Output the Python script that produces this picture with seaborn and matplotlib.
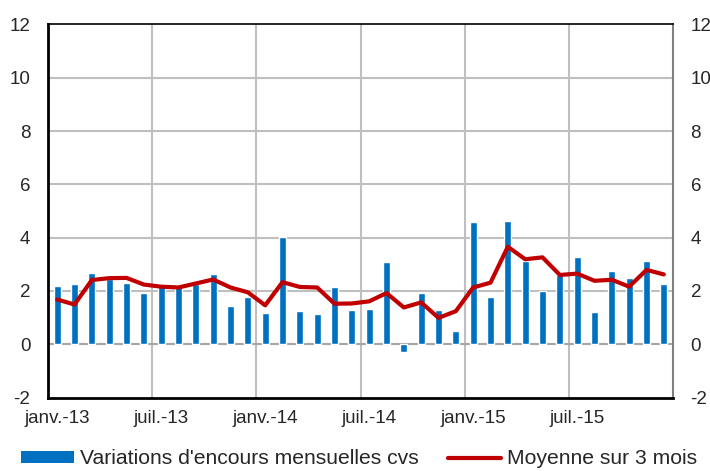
import numpy as np
import pandas as pd
import matplotlib
matplotlib.use('Agg')
import matplotlib.pyplot as plt
import seaborn as sns
from matplotlib.patches import Patch
from matplotlib.lines import Line2D

# mois de janv.-13 à déc.-15
mois_noms = ['janv.', 'févr.', 'mars', 'avr.', 'mai', 'juin',
             'juil.', 'août', 'sept.', 'oct.', 'nov.', 'déc.']
annees = ['13', '14', '15']
mois = [f'{m}-{a}' for a in annees for m in mois_noms]

# variations d'encours mensuelles cvs
variations = [2.18, 2.26, 2.68, 2.45, 2.31, 1.91, 2.20, 2.24, 2.27, 2.63, 1.43, 1.76,
              1.19, 4.01, 1.23, 1.14, 2.16, 1.30, 1.33, 3.10, -0.31, 1.91, 1.28, 0.50,
              4.57, 1.79, 4.62, 3.14, 2.01, 2.60, 3.26, 1.20, 2.75, 2.47, 3.11, 2.26]

# moyenne sur 3 mois
moyenne_3m = [1.68, 1.49, 2.41, 2.48, 2.49, 2.24, 2.16, 2.13, 2.28, 2.43, 2.13, 1.95,
              1.46, 2.33, 2.15, 2.13, 1.52, 1.53, 1.61, 1.92, 1.38, 1.57, 0.99, 1.24,
              2.13, 2.31, 3.66, 3.19, 3.26, 2.60, 2.65, 2.38, 2.42, 2.16, 2.79, 2.62]

yticks = [-2, 0, 2, 4, 6, 8, 10, 12]

df = pd.DataFrame({'mois': mois, 'variation': variations, 'moyenne': moyenne_3m})
df['pos'] = np.arange(len(df))

sns.set_style('white')
plt.rcParams['font.family'] = ['Liberation Sans', 'DejaVu Sans']

bleu = '#0070C0'
rouge = '#C00000'
gris = '#BFBFBF'

fig = plt.figure(figsize=(7.1, 4.71), dpi=100)
ax = fig.add_axes([0.0683, 0.156, 0.8789, 0.792])

# grille
for y in yticks[1:-1]:
    ax.axhline(y, color=gris, lw=1.5, zorder=0)
for x in np.arange(5.5, 35, 6):
    ax.axvline(x, color=gris, lw=1.5, zorder=0)
ax.axhline(0, color='#A6A6A6', lw=1.5, zorder=1)

sns.barplot(data=df, x='mois', y='variation', color=bleu, width=0.41,
            saturation=1, ax=ax, zorder=2)
sns.lineplot(data=df, x='pos', y='moyenne', color=rouge, lw=3, ax=ax, zorder=3)

ax.set_xlim(-0.5, len(df) - 0.5)
ax.set_ylim(-2, 12)
ax.set_yticks(yticks)
ax.set_yticklabels([str(v) for v in yticks], fontsize=13.5)
ax.set_xticks(range(0, len(df), 6))
ax.set_xticklabels(mois[::6], fontsize=13.5)
ax.set_xlabel('')
ax.set_ylabel('')
ax.tick_params(axis='x', length=0, pad=9)
ax.tick_params(axis='y', length=0, pad=13)

for s in ['left', 'bottom']:
    ax.spines[s].set_color('black')
    ax.spines[s].set_linewidth(2)
ax.spines['top'].set_color('black')
ax.spines['top'].set_linewidth(1.2)
ax.spines['right'].set_color('#808080')
ax.spines['right'].set_linewidth(1.5)

# axe de droite
ax2 = ax.twinx()
ax2.set_ylim(-2, 12)
ax2.set_yticks(yticks)
ax2.set_yticklabels([str(v) for v in yticks], fontsize=13.5)
ax2.tick_params(axis='y', length=0, pad=13)
for s in ax2.spines.values():
    s.set_visible(False)

handles = [Patch(facecolor=bleu, edgecolor='none'),
           Line2D([0], [0], color=rouge, lw=3)]
labels = ["Variations d'encours mensuelles cvs", 'Moyenne sur 3 mois']
fig.legend(handles, labels, loc='center', bbox_to_anchor=(0.506, 0.026), ncol=2,
           frameon=False, fontsize=15.2, handlelength=2.5, handleheight=0.48,
           handletextpad=0.3, columnspacing=1.4, borderpad=0)

fig.savefig('out.png', dpi=100)
